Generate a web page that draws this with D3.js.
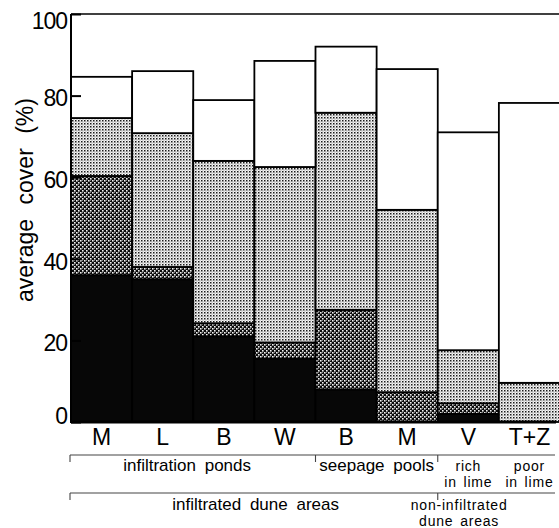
<!DOCTYPE html>
<html>
<head>
<meta charset="utf-8">
<script src="https://cdn.jsdelivr.net/npm/d3@7"></script>
<style>
  html, body { margin: 0; padding: 0; background: #fff; }
  svg { display: block; font-family: "Liberation Sans", Arial, Helvetica, sans-serif; }
</style>
</head>
<body>
<svg id="chart" width="559" height="528"></svg>
<script>
// ---- data ----
const categories = ["M", "L", "B", "W", "B", "M", "V", "T+Z"];
// stacked layers, bottom to top (values in % cover)
const blackLayer = [36, 35, 21, 15.5, 8, 0, 2, 0];
const darkLayer  = [24.3, 3, 3.2, 4, 19.5, 7.3, 2.6, 0];
const lightLayer = [14.2, 32.8, 39.8, 43, 48.3, 44.7, 13, 9.6];
const whiteLayer = [10.1, 15.2, 14.9, 26, 16.2, 34.5, 53.4, 68.6];
const layerNames = ["black", "dark", "light", "white"];
const yTicks = [0, 20, 40, 60, 80, 100];
const groupTier1 = [
  { lines: ["infiltration ponds"], cx: 1.9 },
  { lines: ["seepage pools"], cx: 5.0 },
  { lines: ["rich", "in lime"], cx: 6.5 },
  { lines: ["poor", "in lime"], cx: 7.5 }
];
const groupTier2 = [
  { lines: ["infiltrated dune areas"], cx: 3.02 },
  { lines: ["non-infiltrated", "dune areas"], cx: 6.35 }
];

// ---- layout ----
const svg = d3.select("#chart");
const mLeft = 71, mRight = 560, mTop = 14, mBottom = 422;

const x = d3.scaleBand().domain(d3.range(categories.length)).range([mLeft, mRight]).padding(0);
const y = d3.scaleLinear().domain([0, 100]).range([mBottom, mTop]);
const xc = v => mLeft + v * x.bandwidth();

// patterns
const defs = svg.append("defs");
const pd = defs.append("pattern").attr("id", "pDark").attr("patternUnits", "userSpaceOnUse")
  .attr("width", 4).attr("height", 4);
pd.append("rect").attr("width", 4).attr("height", 4).attr("fill", "#0a0a0a");
pd.append("rect").attr("x", 0).attr("y", 0).attr("width", 1.6).attr("height", 1.6).attr("fill", "#f2f2f2");
pd.append("rect").attr("x", 2).attr("y", 2).attr("width", 1.6).attr("height", 1.6).attr("fill", "#f2f2f2");
pd.append("rect").attr("x", 2).attr("y", 0).attr("width", 1).attr("height", 1).attr("fill", "#777");

const pl = defs.append("pattern").attr("id", "pLight").attr("patternUnits", "userSpaceOnUse")
  .attr("width", 3).attr("height", 3);
pl.append("rect").attr("width", 3).attr("height", 3).attr("fill", "#f6f6f6");
pl.append("rect").attr("x", 0).attr("y", 0).attr("width", 1.5).attr("height", 1.5).attr("fill", "#1a1a1a");
pl.append("rect").attr("x", 1.5).attr("y", 1.5).attr("width", 1).attr("height", 1).attr("fill", "#777");

const fills = { black: "#070707", dark: "url(#pDark)", light: "url(#pLight)", white: "#ffffff" };

// stack
const rows = categories.map((c, i) => ({
  idx: i, black: blackLayer[i], dark: darkLayer[i], light: lightLayer[i], white: whiteLayer[i]
}));
const stack = d3.stack().keys(layerNames)(rows);

const gBars = svg.append("g");
stack.forEach(layer => {
  gBars.selectAll(null).data(layer).enter().append("rect")
    .attr("x", d => x(d.data.idx))
    .attr("y", d => y(d[1]))
    .attr("width", x.bandwidth())
    .attr("height", d => Math.max(0, y(d[0]) - y(d[1])))
    .attr("fill", fills[layer.key])
    .attr("stroke", d => (d[1] - d[0]) > 0 ? "#000" : "none")
    .attr("stroke-width", 1.8);
});

// frame: left axis, top line, baseline
svg.append("line").attr("x1", mLeft).attr("x2", mLeft).attr("y1", y(0) + 1).attr("y2", y(100))
  .attr("stroke", "#000").attr("stroke-width", 2);
svg.append("line").attr("x1", mLeft).attr("x2", mRight).attr("y1", y(100)).attr("y2", y(100))
  .attr("stroke", "#000").attr("stroke-width", 1.6);
svg.append("line").attr("x1", mLeft).attr("x2", mRight - 4).attr("y1", y(0)).attr("y2", y(0))
  .attr("stroke", "#000").attr("stroke-width", 3);

// y axis ticks + labels
const yAxis = d3.axisRight(y).tickValues(yTicks).tickSize(10).tickFormat(d3.format("d"));
const gy = svg.append("g").attr("transform", `translate(${mLeft},0)`).call(yAxis);
gy.select(".domain").remove();
gy.selectAll(".tick line").attr("stroke", "#000").attr("stroke-width", 2);
gy.selectAll(".tick text")
  .attr("x", -4).attr("text-anchor", "end").attr("fill", "#000")
  .attr("font-size", 23).attr("font-family", "\"Liberation Sans\", Arial, sans-serif")
  .attr("letter-spacing", -1)
  .attr("y", d => d === 100 ? 6 : (d === 0 ? -7 : 2))
  .attr("dy", "0.36em");

// y axis title
svg.append("text")
  .attr("transform", `translate(33,200) rotate(-90)`)
  .attr("text-anchor", "middle").attr("font-size", 23).attr("word-spacing", 8)
  .text("average cover (%)");

// x axis category labels
const xAxis = d3.axisBottom(x).tickSize(0).tickFormat(i => categories[i]);
const gx = svg.append("g").attr("transform", `translate(0,${mBottom})`).call(xAxis);
gx.select(".domain").remove();
gx.selectAll(".tick text").attr("fill", "#000").attr("font-size", 23)
  .attr("font-family", "\"Liberation Sans\", Arial, sans-serif").attr("y", 7).attr("dy", "0.71em");

// group brackets
function drawTier(groups, lineY, tickXs, textY, lineGap) {
  svg.append("line").attr("x1", mLeft - 1).attr("x2", mRight - 5).attr("y1", lineY).attr("y2", lineY)
    .attr("stroke", "#444").attr("stroke-width", 1.1);
  tickXs.forEach(t => {
    svg.append("line").attr("x1", t).attr("x2", t).attr("y1", lineY).attr("y2", lineY + 7)
      .attr("stroke", "#444").attr("stroke-width", 1.1);
  });
  groups.forEach(g => {
    const multi = g.lines.length > 1;
    const t = svg.append("text").attr("text-anchor", "middle")
      .attr("font-size", multi ? 14 : 17)
      .attr("letter-spacing", multi ? 0.8 : 0)
      .attr("word-spacing", multi ? 2 : 4).attr("fill", "#000");
    g.lines.forEach((ln, k) => {
      t.append("tspan").attr("x", xc(g.cx)).attr("y", textY + k * lineGap).text(ln);
    });
  });
}
drawTier(groupTier1, 455, [mLeft - 1, x(4), x(6)], 471, 16);
drawTier(groupTier2, 493, [mLeft - 1, x(6)], 510, 16);
</script>
</body>
</html>
